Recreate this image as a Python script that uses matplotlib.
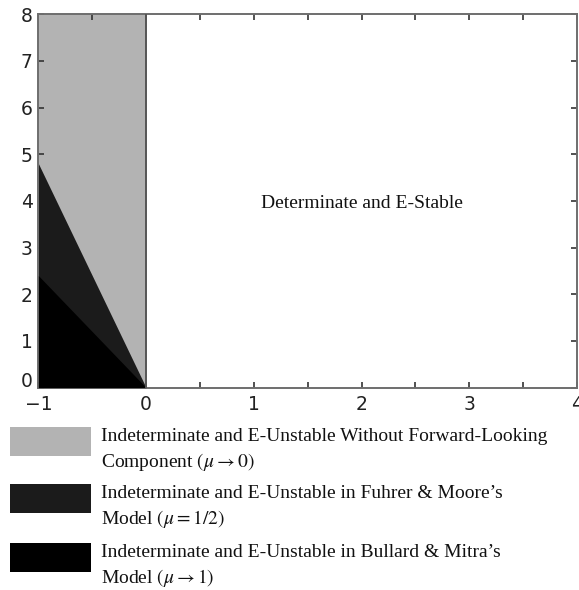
import numpy as np
import matplotlib
matplotlib.use("Agg")
import matplotlib.pyplot as plt
import matplotlib.ticker as mticker
from matplotlib.patches import Rectangle

plt.rcParams["mathtext.fontset"] = "stix"

# region boundaries (x from -1 to 0, boundary line y at x=-1 goes to 0 at x=0)
x_edge = [-1.0, 0.0]
y_gray_top = 8.0
y_fm_at_left = 4.8      # Fuhrer & Moore boundary at x=-1
y_bm_at_left = 2.4      # Bullard & Mitra boundary at x=-1

region_colors = ["#b3b3b3", "#1b1b1b", "#000000"]
legend_labels = [
    "Indeterminate and E-Unstable Without Forward-Looking\nComponent $\\left(\\mu \\rightarrow 0\\right)$",
    "Indeterminate and E-Unstable in Fuhrer & Moore\u2019s\nModel $\\left(\\mu = 1/2\\right)$",
    "Indeterminate and E-Unstable in Bullard & Mitra\u2019s\nModel $\\left(\\mu \\rightarrow 1\\right)$",
]
stable_label = "Determinate and E-Stable"

fig = plt.figure(figsize=(5.79, 5.90), dpi=100, facecolor="white")
ax = fig.add_axes([0.0663, 0.343, 0.9302, 0.633])

# ── regions ──────────────────────────────────────────────────────────────
ax.fill_between(x_edge, [0, 0], [y_gray_top, y_gray_top], color=region_colors[0], lw=0, zorder=1)
ax.fill_between(x_edge, [0, 0], [y_fm_at_left, 0], color=region_colors[1], lw=0, zorder=2)
ax.fill_between(x_edge, [0, 0], [y_bm_at_left, 0], color=region_colors[2], lw=0, zorder=3)
ax.plot([0, 0], [0, y_gray_top], color="#555555", lw=1.4, zorder=4)

ax.text(2.0, 3.94, stable_label, ha="center", va="center",
        fontsize=14, family="Liberation Serif", color="#111111")

# ── axes styling ─────────────────────────────────────────────────────────
ax.set_xlim(-1, 4)
ax.set_ylim(0, 8)
ax.xaxis.set_major_locator(mticker.MultipleLocator(1))
ax.xaxis.set_minor_locator(mticker.MultipleLocator(0.5))
ax.yaxis.set_major_locator(mticker.MultipleLocator(1))
ax.xaxis.set_major_formatter(mticker.FuncFormatter(lambda v, _: f"{v:.0f}".replace("-", "\u2212")))
# y "0" is drawn separately a bit higher so it clears the "-1" below it
ax.yaxis.set_major_formatter(mticker.FuncFormatter(lambda v, _: "" if v == 0 else f"{v:.0f}"))
ax.tick_params(which="both", direction="in", top=True, right=True,
               length=4, width=1.2, color="#333333", labelsize=13.5,
               labelcolor="#222222")
ax.tick_params(axis="x", pad=5)
ax.tick_params(axis="y", pad=4)
for s in ax.spines.values():
    s.set_color("#6e6e6e")
    s.set_linewidth(1.4)

ax.annotate("0", xy=(0, 0), xycoords="axes fraction", xytext=(-4, 4.5),
            textcoords="offset points", ha="right", va="center",
            fontsize=13.5, color="#222222")

# ── legend drawn below the axes ──────────────────────────────────────────
W, H = 579.0, 590.0
box_tops = [427, 484, 543]
for top, col, lab in zip(box_tops, region_colors, legend_labels):
    fig.add_artist(Rectangle((10 / W, 1 - (top + 28.5) / H), 80.5 / W, 28.5 / H,
                             transform=fig.transFigure, color=col, lw=0))
    fig.text(101 / W, 1 - (top + 1) / H, lab, ha="left", va="top",
             fontsize=14, family="Liberation Serif", color="#111111",
             linespacing=1.38)

fig.savefig("out.png", dpi=100, facecolor="white")
